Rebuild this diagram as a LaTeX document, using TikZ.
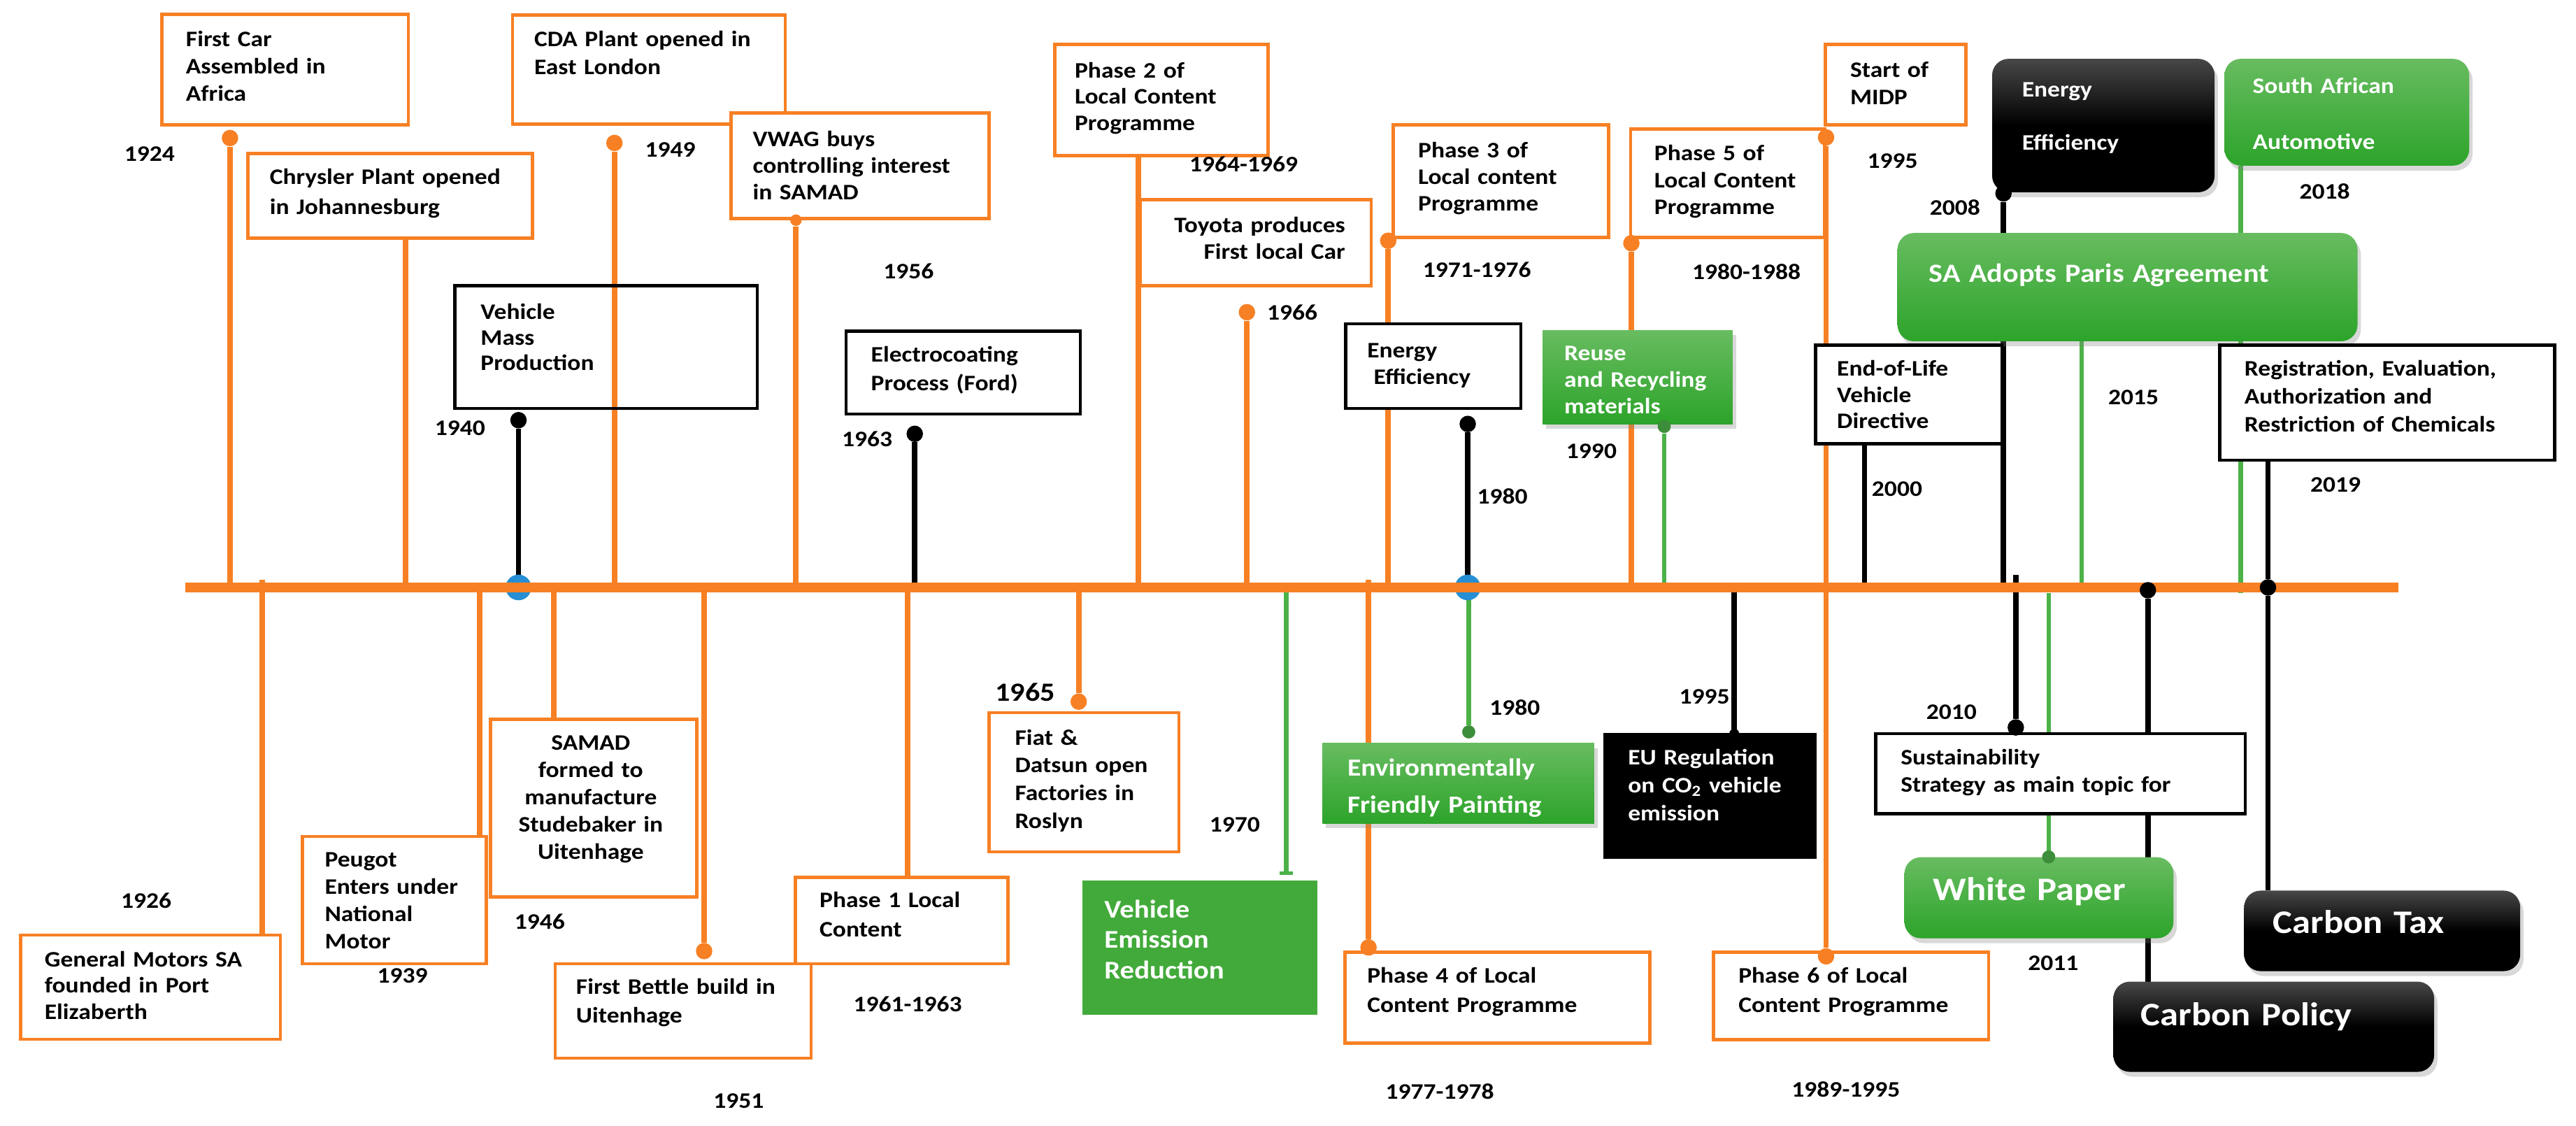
\documentclass[tikz,border=0pt]{standalone}
\usepackage{fontspec}
\setmainfont{Carlito}[FakeStretch=1.12]
\usetikzlibrary{shadows,arrows.meta}
\pgfdeclarelayer{bg}
\pgfsetlayers{bg,main}
\definecolor{tor}{RGB}{247,128,36}
\definecolor{grn}{RGB}{76,178,72}
\definecolor{gtop}{RGB}{104,188,96}
\definecolor{gbot}{RGB}{44,164,42}
\definecolor{gflat}{RGB}{66,170,58}
\definecolor{tblue}{RGB}{38,142,212}
\tikzset{
 bx/.style={rectangle, inner sep=0pt, outer sep=0pt, anchor=north west},
 obox/.style={bx, draw=tor, line width=2pt, fill=white},
 kbox/.style={bx, draw=black, line width=2pt, fill=white},
 kopen/.style={bx, draw=black, line width=2pt},
 gsq/.style={bx, top color=gtop, bottom color=gbot, drop shadow={opacity=0.3, shadow xshift=2pt, shadow yshift=-3pt}},
 ground/.style={gsq, rounded corners=10pt},
 gflatbox/.style={bx, fill=gflat},
 kround/.style={bx, rounded corners=10pt, top color=black!72, bottom color=black, middle color=black, drop shadow={opacity=0.3, shadow xshift=2pt, shadow yshift=-3pt}},
 kflat/.style={bx, fill=black},
 ocon/.style={draw=tor, line width=3.4pt},
 kcon/.style={draw=black, line width=3.2pt},
 gcon/.style={draw=grn, line width=2.8pt},
 odot/.style={circle, fill=tor, inner sep=0pt, minimum size=10pt},
 kdot/.style={circle, fill=black, inner sep=0pt, minimum size=10pt},
 gdot/.style={circle, fill=grn!80!black, inner sep=0pt, minimum size=8pt},
 bdot/.style={circle, fill=tblue, inner sep=0pt, minimum size=15.6pt},
 tx/.style={inner sep=0pt, anchor=base west, text width=250pt, align=left, font=\bfseries\fontsize{13.5}{#1}\selectfont},
 tx/.default=16.5,
 yr/.style={inner sep=0pt, font=\bfseries\fontsize{13.5}{16}\selectfont},
}
\begin{document}
\begin{tikzpicture}[x=1pt,y=-1pt]
\useasboundingbox (0,0) rectangle (1568,685);
\coordinate (tl) at (113,357.5);
\coordinate (tlR) at (1460,357.5);
% connection points on the timeline
\coordinate (cB) at (247,357.5);
\coordinate (cG) at (693,357.5);
\coordinate (cO) at (1364,361);
\coordinate (cP) at (1267,357.5);
\coordinate (cQ) at (1135,357.5);
\coordinate (cS) at (159.5,353);
\coordinate (cT) at (291.8,357.5);
\coordinate (cU) at (337,357.5);
\coordinate (cW) at (552.5,357.5);
\coordinate (cY) at (783,357.5);
\coordinate (cYe) at (783,532.5);
\coordinate (cAA) at (833,353);
\coordinate (cAB) at (1055.6,357.5);
\coordinate (cAD) at (1227,350);
\coordinate (cAE) at (1247,361);

% ---------- boxes ----------
\node[obox, minimum width=150pt, minimum height=67.2pt] (bA) at (98.5,8.8) {};
\node[obox, minimum width=173pt, minimum height=51.5pt] (bB) at (151,93.5) {};
\node[kopen, minimum width=184pt, minimum height=74.6pt] (bC) at (277,174) {};
\node[obox, minimum width=166pt, minimum height=66.3pt] (bD) at (312,9.2) {};
\node[obox, minimum width=157pt, minimum height=64.2pt] (bE) at (445,68.8) {};
\node[kbox, minimum width=142.6pt, minimum height=50.5pt] (bF) at (515,201.5) {};
\node[obox, minimum width=130pt, minimum height=67.6pt] (bG) at (642,27) {};
\node[obox, minimum width=140.6pt, minimum height=52.4pt] (bH) at (694,121.6) {};
\node[obox, minimum width=131pt, minimum height=68.6pt] (bI) at (848,76) {};
\node[kbox, minimum width=106.7pt, minimum height=51.6pt] (bJ) at (819,197) {};
\node[gsq, minimum width=115.6pt, minimum height=57pt] (bK) at (939,201) {};
\node[obox, minimum width=118pt, minimum height=66.1pt] (bL) at (992.6,78.5) {};
\node[obox, minimum width=85.5pt, minimum height=49pt] (bM) at (1111,27) {};
\node[kround, minimum width=135.4pt, minimum height=81.2pt] (bN) at (1212.6,35.8) {};
\node[ground, minimum width=149pt, minimum height=65pt] (bO) at (1354,35.8) {};
\node[ground, minimum width=280pt, minimum height=65.9pt] (bP) at (1155,141.8) {};
\node[kbox, minimum width=113.6pt, minimum height=60pt] (bQ) at (1105,210) {};
\node[kbox, minimum width=204pt, minimum height=70pt] (bR) at (1351,210) {};
\node[obox, minimum width=158.1pt, minimum height=63.5pt] (bS) at (12.6,569) {};
\node[obox, minimum width=112pt, minimum height=77.5pt] (bT) at (184,509) {};
\node[obox, minimum width=125.4pt, minimum height=108.1pt] (bU) at (298.6,437.8) {};
\node[obox, minimum width=155.7pt, minimum height=57.5pt] (bV) at (338,586.5) {};
\node[obox, minimum width=129.5pt, minimum height=52.7pt] (bW) at (484,533.8) {};
\node[obox, minimum width=115.6pt, minimum height=84.7pt] (bX) at (602,433.7) {};
\node[gflatbox, minimum width=143pt, minimum height=81.6pt] (bY) at (659,536) {};
\node[gsq, minimum width=165.4pt, minimum height=48.6pt] (bZ) at (805,452.4) {};
\node[obox, minimum width=185.6pt, minimum height=55.4pt] (bAA) at (818.7,579.4) {};
\node[kflat, minimum width=129.8pt, minimum height=76.7pt] (bAB) at (976,446) {};
\node[obox, minimum width=167.5pt, minimum height=53.2pt] (bAC) at (1043,579.4) {};
\node[kbox, minimum width=224.9pt, minimum height=48.8pt] (bAD) at (1141.7,446.5) {};
\node[ground, minimum width=163.8pt, minimum height=49.3pt] (bAE) at (1159.2,521.7) {};
\node[kround, minimum width=195.2pt, minimum height=54.9pt] (bAF) at (1286.4,597.4) {};
\node[kround, minimum width=168pt, minimum height=49pt] (bAG) at (1366,542) {};

% ---------- dots ----------
\node[odot] (dA) at (140,84) {};
\node[kdot] (dC) at (315.6,255.7) {};
\node[odot] (dD) at (374,87) {};
\node[odot, minimum size=7pt] (dE) at (484.5,134) {};
\node[kdot] (dF) at (556.8,264) {};
\node[odot] (dH) at (759,190) {};
\node[odot] (dI) at (845,146.5) {};
\node[kdot] (dJ) at (893.4,258) {};
\node[gdot] (dK) at (1013,259.5) {};
\node[odot] (dL) at (993,148) {};
\node[odot] (dM) at (1111.5,83.6) {};
\node[kdot] (dN) at (1219.5,117.7) {};
\node[kdot] (dR) at (1380.5,357.5) {};
\node[odot] (dV) at (428.6,578.8) {};
\node[odot] (dX) at (656.6,427) {};
\node[gdot] (dZ) at (894,445.4) {};
\node[odot] (dAA) at (833,576.6) {};
\node[kdot, minimum size=6pt] (dAB) at (1055.6,446.5) {};
\node[odot] (dAC) at (1111.5,582) {};
\node[kdot] (dAD) at (1227,442.7) {};
\node[gdot] (dAE) at (1247,521.5) {};
\node[kdot] (dAF) at (1307.4,359.2) {};

% ---------- texts ----------
\node[tx=16.5] (tA) at (113,28.35) {First Car\\Assembled in\\Africa};
\node[tx=18] (tB) at (164,112.35) {Chrysler Plant opened\\in Johannesburg};
\node[tx=15.5] (tC) at (292.4,194.35) {Vehicle\\Mass\\Production};
\node[tx=17] (tD) at (325,28.35) {CDA Plant opened in\\East London};
\node[tx=16] (tE) at (458,89.35) {VWAG buys\\controlling interest\\in SAMAD};
\node[tx=17.5] (tF) at (530,220.35) {Electrocoating\\Process (Ford)};
\node[tx=16] (tG) at (654,47.35) {Phase 2 of\\Local Content\\Programme};
\node[tx=16.4, align=right, text width=140pt, anchor=base east] (tH) at (819,141.35) {Toyota produces\\First local Car};
\node[tx=16.2] (tI) at (863,95.95) {Phase 3 of\\Local content\\Programme};
\node[tx=16.2] (tJ) at (832,217.75) {Energy\\\hspace*{4pt}Efficiency};
\node[tx=16.3, text=white] (tK) at (952,219.35) {Reuse\\and Recycling\\materials};
\node[tx=16.25] (tL) at (1006.8,97.85) {Phase 5 of\\Local Content\\Programme};
\node[tx=16.6] (tM) at (1126,47.05) {Start of\\MIDP};
\node[tx=16.5, text=white] (tN) at (1230.6,59.05) {Energy\\[15.8pt]Efficiency};
\node[tx=16.5, text=white] (tO) at (1371,56.95) {South African\\[17.4pt]Automotive};
\node[tx, text=white, font=\bfseries\fontsize{16}{19}\selectfont] (tP) at (1174,171.75) {SA Adopts Paris Agreement};
\node[tx=16] (tQ) at (1118,228.85) {End-of-Life\\Vehicle\\Directive};
\node[tx=17] (tR) at (1366,228.85) {Registration, Evaluation,\\Authorization and\\Restriction of Chemicals};
\node[tx=16] (tS) at (27,588.35) {General Motors SA\\founded in Port\\Elizaberth};
\node[tx=16.6] (tT) at (197.5,527.35) {Peugot\\Enters under\\National\\Motor};
\node[tx=16.6, align=center, text width=140pt, anchor=base] (tU) at (359.6,456.35) {SAMAD\\formed to\\manufacture\\Studebaker in\\Uitenhage};
\node[tx=17.4] (tV) at (350.5,604.95) {First Bettle build in\\Uitenhage};
\node[tx=17.6] (tW) at (498.7,552.35) {Phase 1 Local\\Content};
\node[tx=16.9] (tX) at (617.6,453.35) {Fiat \&\\Datsun open\\Factories in\\Roslyn};
\node[tx, text=white, font=\bfseries\fontsize{15.5}{18.6}\selectfont] (tY) at (672,558.5) {Vehicle\\Emission\\Reduction};
\node[tx, text=white, font=\bfseries\fontsize{15}{22.7}\selectfont] (tZ) at (820,472.1) {Environmentally\\Friendly Painting};
\node[tx=17.7] (tAA) at (832,598.35) {Phase 4 of Local\\Content Programme};
\node[tx=17.2, text=white] (tAB) at (990.8,465.25) {EU Regulation\\on CO\textsubscript{2} vehicle\\emission};
\node[tx=17.7] (tAC) at (1058,598.35) {Phase 6 of Local\\Content Programme};
\node[tx=16.9] (tAD) at (1156.8,465.25) {Sustainability\\Strategy as main topic for};
\node[tx, text=white, font=\bfseries\fontsize{20}{24}\selectfont] (tAE) at (1176.6,547.8) {White Paper};
\node[tx, text=white, font=\bfseries\fontsize{20}{24}\selectfont] (tAF) at (1303,624) {Carbon Policy};
\node[tx, text=white, font=\bfseries\fontsize{20}{24}\selectfont] (tAG) at (1383.3,568.2) {Carbon Tax};

% ---------- years ----------
\node[yr] (y1924) at (91,93.5) {1924};
\node[yr] (y1949) at (408,91) {1949};
\node[yr] (y1940) at (280,260.7) {1940};
\node[yr] (y1956) at (553,165) {1956};
\node[yr] (y1963) at (527.8,267) {1963};
\node[yr] (y1964) at (757,100) {1964-1969};
\node[yr] (y1966) at (786.6,190) {1966};
\node[yr] (y1971) at (899,164) {1971-1976};
\node[yr] (y1980a) at (914.5,302) {1980};
\node[yr] (y1990) at (968.7,274.6) {1990};
\node[yr] (y1980b) at (1063,165.4) {1980-1988};
\node[yr] (y1995a) at (1152,98) {1995};
\node[yr] (y2008) at (1190,126.4) {2008};
\node[yr] (y2018) at (1415,116.5) {2018};
\node[yr] (y2015) at (1298.6,242) {2015};
\node[yr] (y2000) at (1154.7,297.6) {2000};
\node[yr] (y2019) at (1421.6,295) {2019};
\node[yr] (y1926) at (89,548) {1926};
\node[yr] (y1939) at (245,594) {1939};
\node[yr] (y1946) at (328.5,560.8) {1946};
\node[yr] (y1951) at (449.6,670) {1951};
\node[yr] (y1961) at (552.5,611) {1961-1963};
\node[yr, font=\bfseries\fontsize{16}{19}\selectfont] (y1965) at (624,421.4) {1965};
\node[yr] (y1970) at (751.6,501.8) {1970};
\node[yr] (y1980c) at (922,430.6) {1980};
\node[yr] (y1977) at (876.4,664.4) {1977-1978};
\node[yr] (y1995b) at (1037.5,424) {1995};
\node[yr] (y1989) at (1123.6,663) {1989-1995};
\node[yr] (y2010) at (1187.8,433.2) {2010};
\node[yr] (y2011) at (1249.8,586) {2011};

% ---------- connectors (behind) ----------
\begin{pgfonlayer}{bg}
\fill[white] (0,0) rectangle (1568,685);
% above the timeline
\draw[ocon] (dA) -- (dA |- tl);
\draw[ocon] (bB.south -| cB) -- (cB);
\draw[kcon] (dC) -- (dC |- tl);
\draw[ocon] (dD) -- (dD |- tl);
\draw[ocon] (dE) -- (dE |- tl);
\draw[kcon] (dF) -- (dF |- tl);
\draw[ocon] (bG.south -| cG) -- (cG);
\draw[ocon] (dH) -- (dH |- tl);
\draw[ocon] (dI) -- (dI |- tl);
\draw[kcon] (dJ) -- (dJ |- tl);
\draw[gcon] (dK) -- (dK |- tl);
\draw[ocon] (dL) -- (dL |- tl);
\draw[ocon] (dM) -- (dM |- tl);
\draw[kcon] (dN) -- (dN |- tl);
\draw[gcon] (bO.south -| cO) -- (cO);
\draw[gcon] (bP.south -| cP) -- (cP);
\draw[kcon] (bQ.south -| cQ) -- (cQ);
\draw[kcon] (bR.south -| dR) -- (dR) -- (dR |- bAG.north);
% below the timeline
\draw[ocon] (cS) -- (cS |- bS.north);
\draw[ocon] (cT) -- (cT |- bT.north);
\draw[ocon] (cU) -- (cU |- bU.north);
\draw[ocon] (dV |- tl) -- (dV);
\draw[ocon] (cW) -- (cW |- bW.north);
\draw[ocon] (dX |- tl) -- (dX);
\draw[gcon, -{Bar[width=8pt, line width=2pt]}] (cY) -- (cYe);
\draw[gcon] (dZ |- tl) -- (dZ);
\draw[ocon] (cAA) -- (dAA);
\draw[kcon] (cAB) -- (cAB |- bAB.north);
\draw[ocon] (dAC |- tl) -- (dAC);
\draw[kcon] (cAD) -- (dAD);
\draw[gcon] (cAE) -- (cAE |- bAE.north);
\draw[kcon] (dAF) -- (dAF |- bAF.north);
% blue markers and the timeline
\node[bdot] (bl1) at (dC |- tl) {};
\node[bdot] (bl2) at (dJ |- tl) {};
\draw[tor, line width=6pt] (tl) -- (tlR);
\end{pgfonlayer}
\end{tikzpicture}
\end{document}
